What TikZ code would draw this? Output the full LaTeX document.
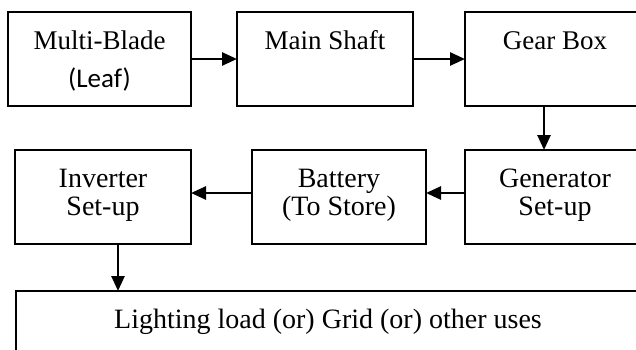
\documentclass[tikz,border=0pt]{standalone}
\usepackage{fontspec}
\setmainfont{Liberation Serif}
\newfontfamily\leaffont{Carlito}
\usepackage{tikz}
\usetikzlibrary{arrows.meta, positioning, calc}
\newcommand{\blktext}[3]{\parbox[c][#2][t]{#1}{\centering\rule{0pt}{37pt}#3}}
\tikzset{
    blk/.style={draw=black, line width=1.6pt, inner sep=0pt, outer sep=0pt, font=\fontsize{28}{28}\selectfont},
    toprow/.style={blk, font=\fontsize{27}{28}\selectfont},
    arr/.style={-{Triangle[length=15pt,width=13pt]}, line width=2.6pt, draw=black}
}

\begin{document}
\begin{tikzpicture}[x=1pt, y=1pt]
        \clip (0,0) rectangle (636,-349);
        \useasboundingbox (0,0) rectangle (636,-349);

        \node[toprow, anchor=north west] (blade) at (8,-12)
            {\blktext{183pt}{94pt}{Multi-Blade\\[10pt]{\leaffont (Leaf)}}};
        \node[toprow, right=46pt of blade] (shaft)
            {\blktext{176pt}{94pt}{Main Shaft}};
        \draw[arr] (blade) -- (shaft);

        \node[toprow, right=52pt of shaft] (gear)
            {\blktext{180pt}{94pt}{Gear Box}};
        \draw[arr] (shaft) -- (gear);

        \node[blk, below=44pt of gear] (gen)
            {\blktext{180pt}{94pt}{Generator\\Set-up}};
        \draw[arr] ([xshift=79pt]gear.south west) -- ([xshift=79pt]gen.north west);

        \node[blk, left=39pt of gen] (batt)
            {\blktext{174pt}{94pt}{Battery\\(To Store)}};
        \draw[arr] ([yshift=4pt]gen.west) -- ([yshift=4pt]batt.east);

        \node[blk, left=61pt of batt] (inv)
            {\blktext{176pt}{94pt}{Inverter\\Set-up}};
        \draw[arr] ([yshift=4pt]batt.west) -- ([yshift=4pt]inv.east);

        \node[blk, below right=47pt and 1pt of inv.south west] (load)
            {\blktext{624pt}{90pt}{Lighting load (or) Grid (or) other uses}};
        \draw[arr] ([xshift=103pt]inv.south west) -- ([xshift=103pt]inv.south west |- load.north);
      \end{tikzpicture}
\end{document}
